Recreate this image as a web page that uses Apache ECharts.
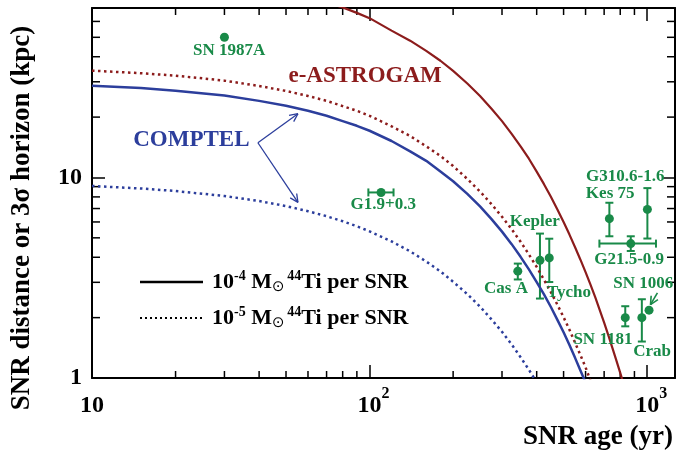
<!DOCTYPE html>
<html>
<head>
<meta charset="utf-8">
<title>44Ti horizon</title>
<script src="https://cdn.jsdelivr.net/npm/echarts@6/dist/echarts.min.js"></script>
<style>html,body{margin:0;padding:0;background:#fff}</style>
</head>
<body>
<div id="main" style="width:680px;height:453px;"></div>
<script type="text/javascript">
// sensitivity curves: age (yr) -> 3 sigma horizon (kpc)
var ageCurve = [10, 15, 20, 30, 40, 50, 60, 70, 80, 90, 100, 120, 140, 160, 180, 200, 225, 250, 275, 300,
    325, 350, 375, 400, 425, 450, 475, 500, 525, 550, 575, 600, 625, 650, 675, 700, 725, 750, 775, 800, 825];
var comptelHigh = [28.7, 27.9, 27.1, 25.6, 24.1, 22.8, 21.5, 20.3, 19.1, 18.1, 17.1, 15.2, 13.5, 12.1, 10.7, 9.57,
    8.28, 7.17, 6.20, 5.37, 4.65, 4.02, 3.48, 3.01, 2.61, 2.26, 1.95, 1.69, 1.46, 1.26, 1.09, 0.95];
var comptelLow = [9.07, 8.81, 8.56, 8.08, 7.63, 7.20, 6.79, 6.41, 6.05, 5.71, 5.39, 4.80, 4.28, 3.81, 3.40, 3.02,
    2.62, 2.27, 1.96, 1.70, 1.47, 1.27, 1.10, 0.95];
var astroHigh = [98, 96, 94, 90.5, 87, 83.3, 78.8, 74.5, 70.5, 66.2, 62.3, 54.0, 48.1, 42.8, 38.2, 34.0,
    29.4, 25.5, 22.0, 19.1, 16.5, 14.3, 12.4, 10.7, 9.26, 8.01, 6.93, 6.00, 5.19, 4.49, 3.89, 3.37,
    2.92, 2.53, 2.18, 1.89, 1.63, 1.41, 1.22, 1.06, 0.92];
var astroLow = [34.1, 33.1, 32.2, 30.4, 28.6, 27.0, 25.5, 24.1, 22.7, 21.5, 20.3, 18.0, 16.1, 14.3, 12.8, 11.4,
    9.83, 8.51, 7.36, 6.37, 5.52, 4.78, 4.13, 3.58, 3.09, 2.68, 2.32, 2.01, 1.74, 1.50, 1.30, 1.13, 0.97];

// known young remnants
var snrNames = ['SN 1987A', 'G1.9+0.3', 'Cas A', 'Kepler', 'Tycho', 'Kes 75', 'SN 1181', 'G21.5-0.9', 'Crab', 'G310.6-1.6', 'SN 1006'];
var snrAge = [30, 110, 342, 411, 444, 731, 834, 873, 957, 1002, 1016];
var snrDist = [50, 8.42, 3.41, 3.86, 3.97, 6.23, 2.0, 4.68, 2.0, 6.93, 2.18];
var distLow = [null, null, 3.10, 2.49, 3.01, 5.09, 1.81, 4.30, 1.52, 4.96, null];
var distHigh = [null, null, 3.72, 5.25, 4.95, 7.48, 2.28, 5.09, 2.47, 8.85, null];
var ageLow = [null, 99, null, null, null, null, null, 673, null, null, null];
var ageHigh = [null, 122, null, null, null, null, null, 1076, null, null, null];
var labelAge = [31.2, 112, 310, 394, 523, 736, 693, 861, 1042, 834, 968];
var labelDist = [42.8, 7.34, 2.80, 6.04, 2.68, 8.33, 1.55, 3.91, 1.35, 10.1, 2.97];

var xMinor = [20, 30, 40, 50, 60, 70, 80, 90, 200, 300, 400, 500, 600, 700, 800, 900];
var yMinor = [2, 3, 4, 5, 6, 7, 8, 9, 20, 30, 40, 50, 60];

var BLUE = '#2c3e9c', RED = '#8c1c1c', GREEN = '#198a48';
var SERIF = '"Liberation Serif", "Times New Roman", serif';

function pairs(xs, ys) {
    var out = [];
    for (var i = 0; i < ys.length; i++) {
        if (ys[i] != null) out.push([xs[i], ys[i]]);
    }
    return out;
}

function seg(x1, y1, x2, y2, color, w) {
    return {type: 'line', shape: {x1: x1, y1: y1, x2: x2, y2: y2}, style: {stroke: color, lineWidth: w}};
}

function xLabel(v) {
    var l = Math.log10(v), p = Math.round(l);
    if (Math.abs(l - p) > 1e-6) return '';
    if (p === 1) return '{b|10}';
    return '{p|' + p + '}{b|10}{s|' + p + '}';
}
function yLabel(v) {
    var l = Math.log10(v), p = Math.round(l);
    if (Math.abs(l - p) > 1e-6) return '';
    return '{b|' + Math.round(v) + '}';
}

var chart = echarts.init(document.getElementById('main'));

var axisBase = {
    type: 'log', logBase: 10,
    axisLine: {onZero: false, lineStyle: {color: '#000', width: 2}},
    axisTick: {inside: true, length: 13, lineStyle: {color: '#000', width: 1.5}},
    splitLine: {show: false}
};

var tickData = xMinor.map(function (v) { return [v, 1, 0]; })
    .concat(yMinor.map(function (v) { return [10, v, 1]; }));

var legendRich = {
    b: {fontSize: 22, fontWeight: 'bold', fontFamily: SERIF, fill: '#000', lineHeight: 26, verticalAlign: 'middle'},
    u: {fontSize: 14, fontWeight: 'bold', fontFamily: SERIF, fill: '#000', lineHeight: 16, verticalAlign: 'top'},
    o: {fontSize: 15, fontFamily: '"DejaVu Sans"', fill: '#000', lineHeight: 14, verticalAlign: 'bottom'}
};

var curveLine = {type: 'line', showSymbol: false, clip: true};

var option = {
    animation: false,
    grid: {left: 92, right: 5, top: 8, bottom: 75},
    xAxis: [
        Object.assign({}, axisBase, {
            min: 10, max: 1260,
            axisLabel: {
                margin: 8, formatter: xLabel,
                rich: {
                    b: {fontSize: 24, fontWeight: 'bold', fontFamily: SERIF, color: '#000', lineHeight: 40},
                    s: {fontSize: 16, fontWeight: 'bold', fontFamily: SERIF, color: '#000', lineHeight: 16, verticalAlign: 'top'},
                    p: {fontSize: 16, fontWeight: 'bold', fontFamily: SERIF, color: 'transparent', lineHeight: 16, verticalAlign: 'top'}
                }
            }
        }),
        Object.assign({}, axisBase, {min: 10, max: 1260, position: 'top', axisLabel: {show: false}})
    ],
    yAxis: [
        Object.assign({}, axisBase, {
            min: 1, max: 70,
            axisLabel: {
                margin: 10, formatter: yLabel,
                rich: {b: {fontSize: 24, fontWeight: 'bold', fontFamily: SERIF, color: '#000'}}
            }
        }),
        Object.assign({}, axisBase, {min: 1, max: 70, position: 'right', axisLabel: {show: false}})
    ],
    series: [
        {
            type: 'custom', name: 'minor ticks', silent: true,
            data: tickData,
            renderItem: function (params, api) {
                var cs = params.coordSys;
                var p = api.coord([api.value(0), api.value(1)]);
                var k = [];
                if (api.value(2) === 0) {
                    k.push(seg(p[0], cs.y + cs.height, p[0], cs.y + cs.height - 7, '#000', 1.5));
                    k.push(seg(p[0], cs.y, p[0], cs.y + 7, '#000', 1.5));
                } else {
                    k.push(seg(cs.x, p[1], cs.x + 8, p[1], '#000', 1.5));
                    k.push(seg(cs.x + cs.width, p[1], cs.x + cs.width - 8, p[1], '#000', 1.5));
                }
                return {type: 'group', children: k};
            }
        },
        Object.assign({}, curveLine, {
            name: 'COMPTEL 1e-4', data: pairs(ageCurve, comptelHigh),
            lineStyle: {color: BLUE, width: 2.5}
        }),
        Object.assign({}, curveLine, {
            name: 'COMPTEL 1e-5', data: pairs(ageCurve, comptelLow),
            lineStyle: {color: BLUE, width: 2.5, type: [2.5, 3.5]}
        }),
        Object.assign({}, curveLine, {
            name: 'e-ASTROGAM 1e-4', data: pairs(ageCurve, astroHigh),
            lineStyle: {color: RED, width: 2.2}
        }),
        Object.assign({}, curveLine, {
            name: 'e-ASTROGAM 1e-5', data: pairs(ageCurve, astroLow),
            lineStyle: {color: RED, width: 2.5, type: [2.5, 3.5]}
        }),
        {
            type: 'custom', name: 'error bars', silent: true, z: 3,
            data: pairs(snrAge, snrDist),
            renderItem: function (params, api) {
                var i = params.dataIndex;
                var c = api.coord([snrAge[i], snrDist[i]]);
                var k = [], cap = 4;
                if (distLow[i] != null) {
                    var lo = api.coord([snrAge[i], distLow[i]])[1];
                    var hi = api.coord([snrAge[i], distHigh[i]])[1];
                    k.push(seg(c[0], lo, c[0], hi, GREEN, 2));
                    k.push(seg(c[0] - cap, lo, c[0] + cap, lo, GREEN, 2));
                    k.push(seg(c[0] - cap, hi, c[0] + cap, hi, GREEN, 2));
                }
                if (ageLow[i] != null) {
                    var l = api.coord([ageLow[i], snrDist[i]])[0];
                    var r = api.coord([ageHigh[i], snrDist[i]])[0];
                    k.push(seg(l, c[1], r, c[1], GREEN, 2));
                    k.push(seg(l, c[1] - cap, l, c[1] + cap, GREEN, 2));
                    k.push(seg(r, c[1] - cap, r, c[1] + cap, GREEN, 2));
                }
                return {type: 'group', children: k};
            }
        },
        {
            type: 'scatter', name: 'SNR', data: pairs(snrAge, snrDist), z: 4,
            symbolSize: 9, itemStyle: {color: GREEN, opacity: 1}, silent: true
        },
        {
            type: 'custom', name: 'labels', silent: true, z: 5,
            data: pairs(labelAge, labelDist),
            renderItem: function (params, api) {
                var c = api.coord([api.value(0), api.value(1)]);
                return {
                    type: 'text', x: c[0], y: c[1],
                    style: {text: snrNames[params.dataIndex], fill: GREEN, font: 'bold 17px ' + SERIF,
                        align: 'center', verticalAlign: 'middle'}
                };
            }
        },
        {
            type: 'custom', name: 'instrument labels', silent: true, z: 5,
            data: [[22.8, 15.3], [96.4, 32.2]],
            renderItem: function (params, api) {
                var c = api.coord([api.value(0), api.value(1)]);
                var i = params.dataIndex;
                return {
                    type: 'text', x: c[0], y: c[1],
                    style: {text: ['COMPTEL', 'e-ASTROGAM'][i], fill: [BLUE, RED][i], font: 'bold 23px ' + SERIF,
                        align: 'center', verticalAlign: 'middle'}
                };
            }
        },
        {
            type: 'custom', name: 'arrows', silent: true, z: 5,
            data: [[39.6, 14.9, 55.2, 20.8], [39.6, 14.9, 55.2, 7.51], [1089, 2.66, 1028, 2.32]],
            renderItem: function (params, api) {
                var a = api.coord([api.value(0), api.value(1)]);
                var b = api.coord([api.value(2), api.value(3)]);
                var col = params.dataIndex < 2 ? BLUE : GREEN;
                var w = params.dataIndex < 2 ? 1.3 : 1.6;
                var ang = Math.atan2(b[1] - a[1], b[0] - a[0]);
                var h = 9, s = 0.45;
                return {
                    type: 'group', children: [
                        seg(a[0], a[1], b[0], b[1], col, w),
                        seg(b[0], b[1], b[0] - h * Math.cos(ang - s), b[1] - h * Math.sin(ang - s), col, w),
                        seg(b[0], b[1], b[0] - h * Math.cos(ang + s), b[1] - h * Math.sin(ang + s), col, w)
                    ]
                };
            }
        }
    ],
    graphic: [
        {
            type: 'text', x: 22, y: 218, rotation: Math.PI / 2,
            style: {text: 'SNR distance or 3\u03c3 horizon (kpc)', font: 'bold 27px ' + SERIF, fill: '#000',
                align: 'center', verticalAlign: 'middle'}
        },
        {
            type: 'text', x: 673, y: 437,
            style: {text: 'SNR age (yr)', font: 'bold 27px ' + SERIF, fill: '#000', align: 'right', verticalAlign: 'middle'}
        },
        {type: 'line', shape: {x1: 140, y1: 282, x2: 203, y2: 282}, style: {stroke: '#000', lineWidth: 2.5}},
        {type: 'line', shape: {x1: 140, y1: 318, x2: 203, y2: 318}, style: {stroke: '#000', lineWidth: 2, lineDash: [2, 3]}},
        {
            type: 'text', x: 212, y: 282,
            style: {text: '{b|10}{u|-4}{b| M}{o|\u2299}{u|\u200944}{b|Ti per SNR}', rich: legendRich, verticalAlign: 'middle'}
        },
        {
            type: 'text', x: 212, y: 318,
            style: {text: '{b|10}{u|-5}{b| M}{o|\u2299}{u|\u200944}{b|Ti per SNR}', rich: legendRich, verticalAlign: 'middle'}
        }
    ]
};

chart.setOption(option);
</script>
</body>
</html>
